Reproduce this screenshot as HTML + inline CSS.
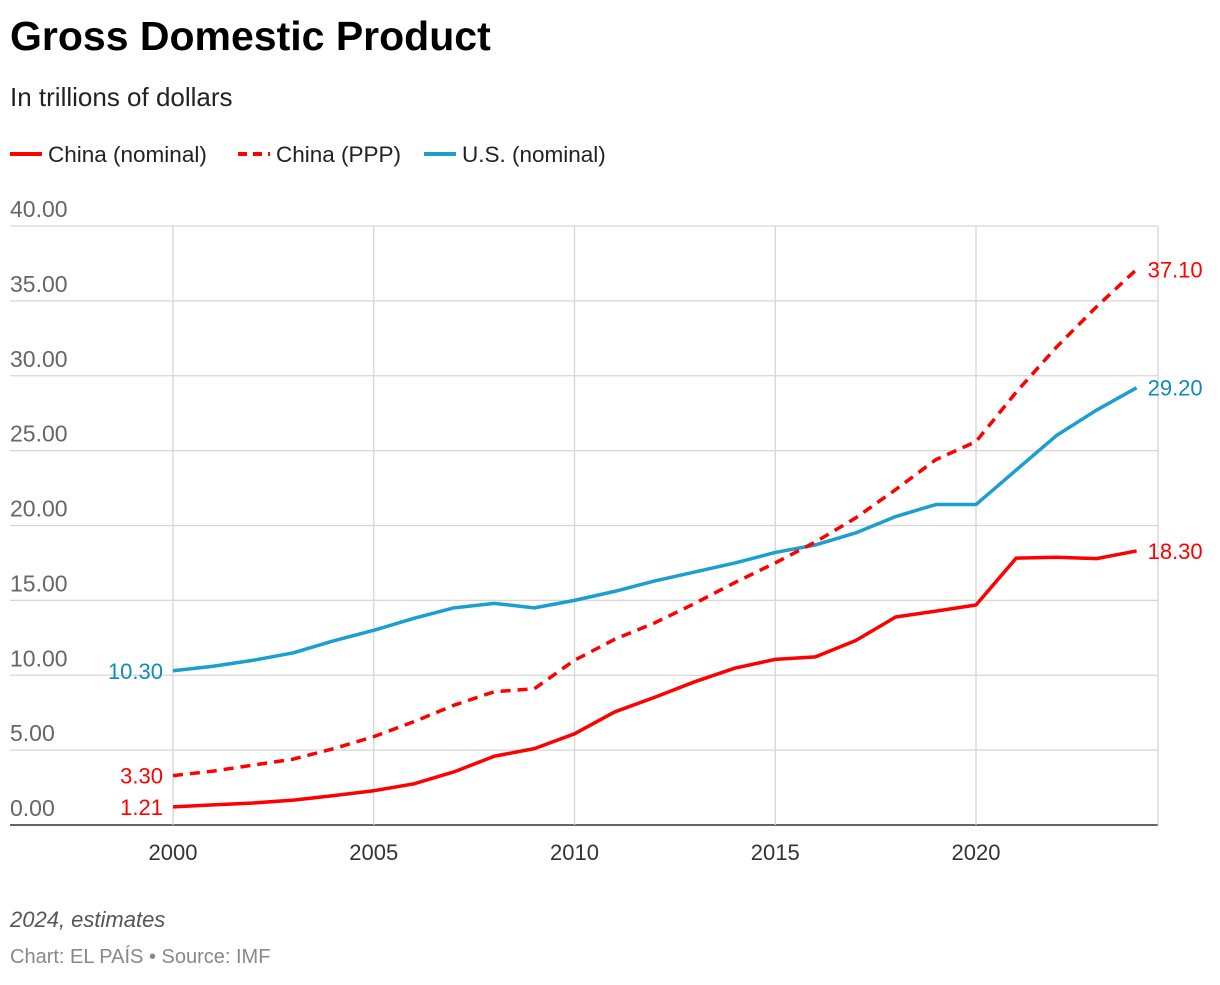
<!DOCTYPE html>
<html><head><meta charset="utf-8"><style>
body{margin:0;background:#fff;font-family:"Liberation Sans",Arial,sans-serif;}
svg text{font-family:"Liberation Sans",Arial,sans-serif;}
</style></head><body>
<svg id="chart" width="1220" height="980">
<text x="10" y="50" font-size="41" font-weight="bold" fill="#000">Gross Domestic Product</text>
<text x="10" y="106" font-size="26" fill="#222">In trillions of dollars</text>
<g>
<line x1="10" y1="154" x2="42" y2="154" stroke="#f00" stroke-width="4"/>
<text x="48" y="162" font-size="22.5" fill="#222">China (nominal)</text>
<line x1="238" y1="154" x2="270" y2="154" stroke="#f00" stroke-width="4" stroke-dasharray="9,6"/>
<text x="276" y="162" font-size="22.5" fill="#222">China (PPP)</text>
<line x1="424" y1="154" x2="456" y2="154" stroke="#1a9fcf" stroke-width="4"/>
<text x="462" y="162" font-size="22.5" fill="#222">U.S. (nominal)</text>
</g>
<g id="grid"></g><g id="series"></g>
<text x="10" y="927" font-size="22" font-style="italic" fill="#555">2024, estimates</text>
<text x="10" y="963" font-size="20" fill="#888">Chart: EL PAÍS • Source: IMF</text>
</svg>
<script>
const years=[2000,2001,2002,2003,2004,2005,2006,2007,2008,2009,2010,2011,2012,2013,2014,2015,2016,2017,2018,2019,2020,2021,2022,2023,2024];
const chinaNominal=[1.21,1.34,1.47,1.66,1.96,2.29,2.75,3.55,4.59,5.1,6.09,7.55,8.53,9.57,10.48,11.06,11.23,12.31,13.89,14.28,14.69,17.82,17.88,17.79,18.3];
const chinaPPP=[3.3,3.6,4.0,4.4,5.1,5.9,6.9,8.0,8.9,9.1,11.0,12.4,13.5,14.8,16.2,17.5,18.9,20.5,22.4,24.4,25.6,28.9,31.9,34.6,37.1];
const usNominal=[10.3,10.6,11.0,11.5,12.3,13.0,13.8,14.5,14.8,14.5,15.0,15.6,16.3,16.9,17.5,18.2,18.7,19.5,20.6,21.4,21.4,23.7,26.0,27.7,29.2];
const yTicks=[0,5,10,15,20,25,30,35,40];
const xTicks=[2000,2005,2010,2015,2020];
const NS="http://www.w3.org/2000/svg";
const X=v=>173+(v-2000)*40.15;
const Y=v=>825-v*14.975;
const grid=document.getElementById('grid'),ser=document.getElementById('series');
function mk(tag,attrs,parent,txt){const e=document.createElementNS(NS,tag);for(const k in attrs)e.setAttribute(k,attrs[k]);if(txt!==undefined)e.textContent=txt;parent.appendChild(e);return e;}
yTicks.forEach(t=>{
 const l=mk('line',{x1:10,x2:1158,y1:Y(t),y2:Y(t),stroke:t===0?'#333':'#d6d6d6','stroke-width':t===0?1.5:1.3},grid);
 
 
 const tx=mk('text',{x:10,y:Y(t)-9,'font-size':23,fill:'#666'},grid,t.toFixed(2));
 
 
});
xTicks.forEach(t=>{
 const l=mk('line',{x1:X(t),x2:X(t),y1:Y(40),y2:Y(0),stroke:'#d6d6d6','stroke-width':1.3},grid);
 
 
 const tx=mk('text',{x:X(t),y:860,'font-size':22,fill:'#333','text-anchor':'middle'},grid,String(t));
 
 
});
const rl=mk('line',{x1:1158,x2:1158,y1:Y(40),y2:Y(0),stroke:'#d6d6d6','stroke-width':1.3},grid);


function series(vals,color,labelColor,dash,name){
 const p=mk('polyline',{points:vals.map((v,i)=>X(years[i])+','+Y(v)).join(' '),fill:'none',stroke:color,'stroke-width':3.5,'stroke-linejoin':'round','stroke-dasharray':dash||'none'},ser);
 
 
 const a=mk('text',{x:X(years[0])-10,y:Y(vals[0])+8,'font-size':22,fill:labelColor,'text-anchor':'end'},ser,vals[0].toFixed(2));
 
 
 const n=vals.length-1;
 const b=mk('text',{x:X(years[n])+11,y:Y(vals[n])+8,'font-size':22,fill:labelColor},ser,vals[n].toFixed(2));
 
 
}
series(usNominal,'#1a9fcf','#1589b5',null,'us-nominal');
series(chinaPPP,'#f00','#f00','10,7','china-ppp');
series(chinaNominal,'#f00','#f00',null,'china-nominal');
</script>
</body></html>
